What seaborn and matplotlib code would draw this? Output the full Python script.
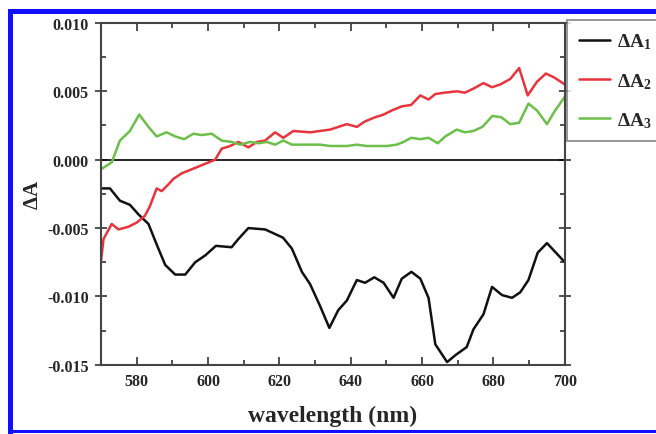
import matplotlib
matplotlib.use("Agg")
import matplotlib.pyplot as plt
from matplotlib.patches import Rectangle
from matplotlib.ticker import MultipleLocator
import seaborn as sns

# data
wl_a1 = [570, 572.5, 575.3, 578.1, 580.5, 583.3, 585.6, 588, 590.8, 593.6,
         596.4, 599.2, 602.2, 606.6, 608.5, 611.3, 616, 621, 623.5, 626.3,
         628.6, 631.4, 634, 636.5, 638.9, 641.7, 644, 646.6, 649.2, 652,
         654.3, 657, 659.5, 661.8, 663.7, 666, 667, 669.3, 672.5, 674.4,
         677.2, 679.6, 682.4, 685.2, 687.5, 689.8, 692.4, 695, 700]
a1 = [-0.0021, -0.0021, -0.0030, -0.0033, -0.0040, -0.0047, -0.0062, -0.0077, -0.0084, -0.0084,
      -0.0075, -0.0070, -0.0063, -0.0064, -0.0058, -0.0050, -0.0051, -0.0057, -0.0065, -0.0082,
      -0.0091, -0.0107, -0.0123, -0.0110, -0.0103, -0.0088, -0.0090, -0.0086, -0.0090, -0.0101,
      -0.0087, -0.0082, -0.0087, -0.0101, -0.0135, -0.0144, -0.0148, -0.0143, -0.0137, -0.0124,
      -0.0113, -0.0093, -0.0099, -0.0101, -0.0097, -0.0088, -0.0068, -0.0061, -0.0075]

wl_a2 = [570, 570.7, 573, 574.9, 577.7, 580, 582.3, 583.7, 585.6, 587,
         588.9, 590.3, 592.6, 596.4, 599.2, 602, 603.8, 606.2, 608.5, 611.3,
         613.7, 616, 618.8, 621.1, 623.9, 628.6, 634.2, 638.9, 641.7, 644,
         646.8, 649.2, 651.5, 654.3, 656.9, 659.5, 661.8, 663.7, 666.3, 669.7,
         672, 674.4, 677.2, 679.6, 681.9, 684.7, 687.2, 689.6, 692.2, 694.7,
         697.1, 700]
a2 = [-0.0074, -0.0058, -0.0047, -0.0051, -0.0049, -0.0046, -0.0041, -0.0034, -0.0021, -0.0023,
      -0.0018, -0.0014, -0.0010, -0.0006, -0.0003, 0.0000, 0.0008, 0.0010, 0.0013, 0.0009,
      0.0013, 0.0014, 0.0020, 0.0016, 0.0021, 0.0020, 0.0022, 0.0026, 0.0024, 0.0028,
      0.0031, 0.0033, 0.0036, 0.0039, 0.0040, 0.0047, 0.0044, 0.0048, 0.0049, 0.0050,
      0.0049, 0.0052, 0.0056, 0.0053, 0.0055, 0.0059, 0.0067, 0.0047, 0.0057, 0.0063,
      0.0060, 0.0055]

wl_a3 = [570, 573, 575.3, 578.1, 580.7, 583.3, 585.6, 588.4, 590.8, 593.3,
         595.9, 598.2, 601, 603.8, 606.6, 609, 611.8, 614.1, 616.5, 618.8,
         621.1, 623.5, 626.3, 629.1, 631.4, 634.2, 638.9, 641.7, 644.5, 647.3,
         650.1, 652.9, 654.8, 656.9, 659.5, 661.8, 664.4, 666.5, 669.7, 672,
         674.4, 676.9, 679.7, 682.2, 684.7, 687.2, 689.8, 692.2, 695, 697.3, 700]
a3 = [-0.0007, -0.0002, 0.0014, 0.0021, 0.0033, 0.0024, 0.0017, 0.0020, 0.0017, 0.0015,
      0.0019, 0.0018, 0.0019, 0.0014, 0.0013, 0.0011, 0.0013, 0.0012, 0.0013, 0.0011,
      0.0014, 0.0011, 0.0011, 0.0011, 0.0011, 0.0010, 0.0010, 0.0011, 0.0010, 0.0010,
      0.0010, 0.0011, 0.0013, 0.0016, 0.0015, 0.0016, 0.0012, 0.0017, 0.0022, 0.0020,
      0.0021, 0.0024, 0.0032, 0.0031, 0.0026, 0.0027, 0.0041, 0.0036, 0.0026, 0.0036, 0.0046]

labels = [r"$\Delta A_1$", r"$\Delta A_2$", r"$\Delta A_3$"]
colors = ["#111111", "#e8343c", "#6cbf48"]

sns.set_style("ticks")
plt.rcParams["font.family"] = ["Liberation Serif", "DejaVu Serif"]
plt.rcParams["font.weight"] = "bold"
plt.rcParams["mathtext.fontset"] = "custom"
plt.rcParams["mathtext.rm"] = "Liberation Serif:bold"
plt.rcParams["mathtext.it"] = "Liberation Serif:bold"
plt.rcParams["mathtext.bf"] = "Liberation Serif:bold"

fig = plt.figure(figsize=(6.56, 4.35), dpi=100)
ax = fig.add_axes([0.154, 0.159, 0.707, 0.786])

for wl, vals, lab, col in zip([wl_a1, wl_a2, wl_a3], [a1, a2, a3], labels, colors):
    sns.lineplot(x=wl, y=vals, ax=ax, color=col, linewidth=1.8, label=lab)

ax.axhline(0, color="black", linewidth=1.2, zorder=1)

ax.set_xlim(570, 700)
ax.set_ylim(-0.015, 0.010)
ax.xaxis.set_major_locator(MultipleLocator(20))
ax.xaxis.set_minor_locator(MultipleLocator(10))
ax.yaxis.set_major_locator(MultipleLocator(0.005))
ax.yaxis.set_minor_locator(MultipleLocator(0.0025))
ax.set_xticks([580, 600, 620, 640, 660, 680, 700])
ax.set_yticks([-0.015, -0.010, -0.005, 0.000, 0.005, 0.010])
ax.set_yticklabels(["-0.015", "-0.010", "-0.005", "0.000", "0.005", "0.010"])
ax.tick_params(which="both", direction="in", top=True, right=True, width=1.2,
               color="#333333", labelsize=11.5)
ax.tick_params(which="major", length=6)
ax.tick_params(which="minor", length=3.5)
ax.tick_params(axis="y", which="major", direction="inout", length=8, pad=5)
ax.tick_params(axis="x", which="major", pad=6)
for s in ax.spines.values():
    s.set_linewidth(1.5)
    s.set_color("#444444")

ax.set_xlabel("wavelength (nm)", fontsize=17, fontweight="bold", labelpad=11)
ax.set_ylabel(r"$\Delta A$", fontsize=15, labelpad=3)

leg = ax.legend(loc="upper left", bbox_to_anchor=(567 / 656, 1 - 21 / 435),
                bbox_transform=fig.transFigure, borderaxespad=0, fontsize=14,
                fancybox=False, frameon=True, handlelength=1.6, handletextpad=0.35,
                labelspacing=1.0, borderpad=0.6)
leg.get_frame().set_edgecolor("#666666")
leg.get_frame().set_linewidth(1.2)

# blue frame around the figure
fig.add_artist(Rectangle((8 / 656, 1 - 15 / 435), 648 / 656, 5 / 435,
                         transform=fig.transFigure, color="#1010ff", lw=0))
fig.add_artist(Rectangle((8 / 656, 1 - 435 / 435), 5 / 656, 420 / 435,
                         transform=fig.transFigure, color="#1010ff", lw=0))
fig.add_artist(Rectangle((8 / 656, 1 - 434 / 435), 648 / 656, 3 / 435,
                         transform=fig.transFigure, color="#1010ff", lw=0))

fig.savefig("out.png", dpi=100)
